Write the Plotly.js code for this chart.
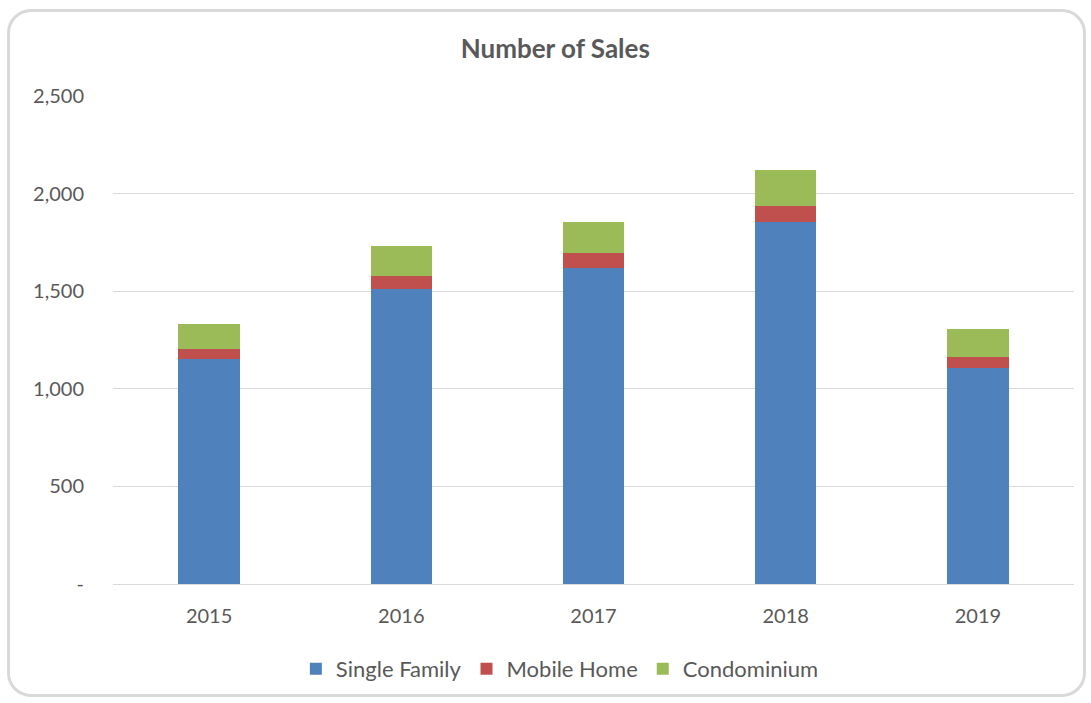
<!DOCTYPE html>
<html>
<head>
<meta charset="utf-8">
<script src="https://cdn.plot.ly/plotly-3.0.1.min.js"></script>
<style>
  html, body { margin: 0; padding: 0; background: #ffffff; }
  #wrap { position: relative; width: 1091px; height: 703px; }
  #chart { position: absolute; left: 0; top: 0; width: 1091px; height: 703px; }
  #border { position: absolute; left: 7px; top: 9px; width: 1073px; height: 682px;
            border: 3px solid #d9d9d9; border-radius: 24px; pointer-events: none; }
</style>
</head>
<body>
<div id="wrap">
  <div id="chart"></div>
  <div id="border"></div>
</div>
<script>
const years = ["2015", "2016", "2017", "2018", "2019"];
const singleFamily = [1155, 1513, 1619, 1857, 1107];
const mobileHome = [50, 64, 79, 80, 55];
const condominium = [125, 153, 157, 185, 142];
const yTickVals = [0, 500, 1000, 1500, 2000, 2500];
const yTickText = ["-", "500", "1,000", "1,500", "2,000", "2,500"];

const font = "Lato, 'Open Sans', sans-serif";
const traces = [
  { type: "bar", name: "Single Family", x: years, y: singleFamily, marker: { color: "#4f81bd" } },
  { type: "bar", name: "Mobile Home", x: years, y: mobileHome, marker: { color: "#c0504d" } },
  { type: "bar", name: "Condominium", x: years, y: condominium, marker: { color: "#9bbb59" } }
];

const layout = {
  width: 1091, height: 703,
  barmode: "stack",
  bargap: 0.68,
  paper_bgcolor: "#ffffff",
  plot_bgcolor: "#ffffff",
  font: { family: font, size: 20, color: "#595959" },
  margin: { l: 113, r: 17, t: 96, b: 119 },
  title: { text: "<b>Number of Sales</b>", x: 0.509, xref: "container", xanchor: "center",
           y: 0.931, yref: "container", yanchor: "middle",
           font: { family: font, size: 26, color: "#595959" } },
  xaxis: { type: "category", showgrid: false, showline: true, linecolor: "#d9d9d9", linewidth: 1,
           ticks: "", ticklabelstandoff: 14, tickfont: { size: 20, color: "#595959" } },
  yaxis: { range: [0, 2500], tickvals: yTickVals, ticktext: yTickText, showgrid: true,
           gridcolor: "#d9d9d9", gridwidth: 1, zeroline: false, showline: false,
           ticks: "", ticklabelstandoff: 28, tickfont: { size: 20, color: "#595959" } },
  legend: { orientation: "h", x: 0.465, xanchor: "center", y: -0.174, yanchor: "middle",
            traceorder: "normal",
            font: { size: 22, color: "#595959" }, itemwidth: 30 },
  showlegend: true
};

Plotly.newPlot("chart", traces, layout, { displayModeBar: false, staticPlot: true });
</script>
</body>
</html>
